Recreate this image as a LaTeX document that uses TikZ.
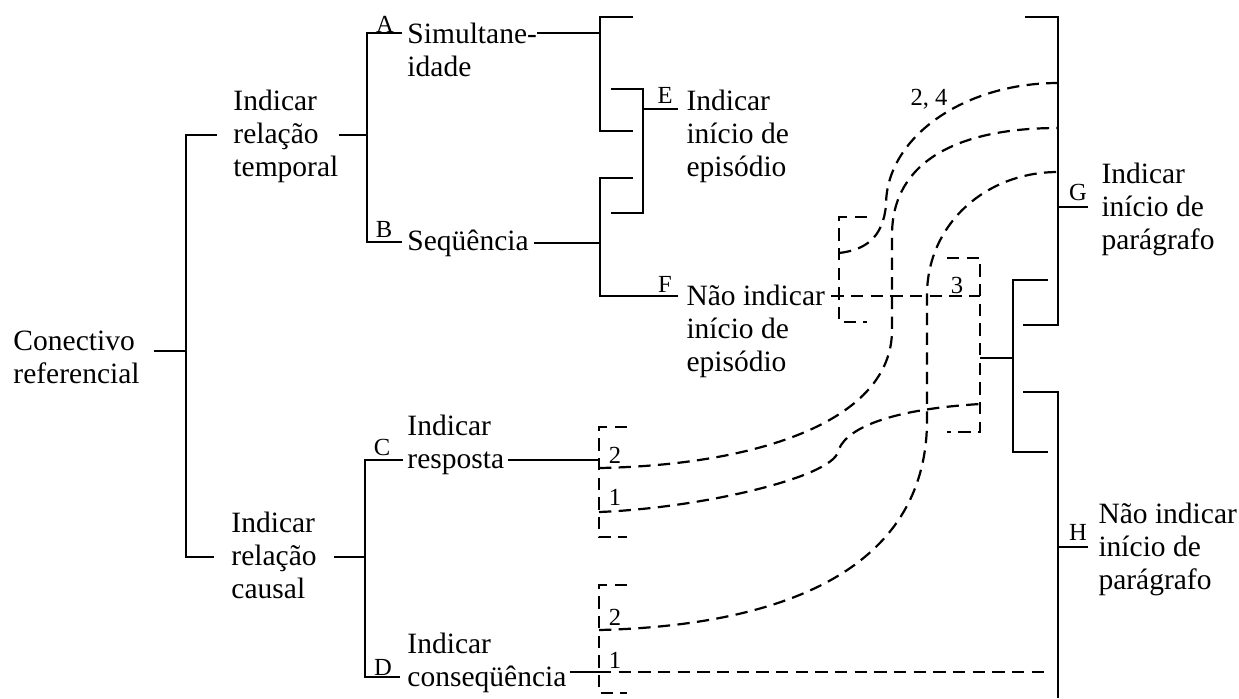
\documentclass[tikz,border=0pt]{standalone}
\usepackage{fontspec}
\setmainfont{Liberation Serif}
\usetikzlibrary{positioning,calc}

\begin{document}
\begin{tikzpicture}[
    x=0.4068pt, y=-0.4068pt,
    term/.style={anchor=base west, align=left, inner sep=0pt, font=\fontsize{12}{13.4}\selectfont},
    tag/.style={anchor=base, inner sep=0pt, font=\fontsize{10}{12}\selectfont},
    link/.style={line width=0.8pt},
    route/.style={line width=0.9pt, dash pattern=on 5pt off 3pt}
]
\useasboundingbox (0,0) rectangle (1239,698);

% texts of the tree (placed at the baseline of their last line)
\node[term] (root) at (13,383) {Conectivo\\referencial};
\node[term] (temporal) at (233,176) {Indicar\\relação\\temporal};
\node[term] (causal) at (231,598) {Indicar\\relação\\causal};
\node[term] (simult) at (407,76) {Simultane-\\idade};
\node[term] (seq) at (407,250) {Seqüência};
\node[term] (resp) at (407,468) {Indicar\\resposta};
\node[term] (conseq) at (407,686) {Indicar\\conseqüência};
\node[term] (epE) at (686,176) {Indicar\\início de\\episódio};
\node[term] (epF) at (686,371) {Não indicar\\início de\\episódio};
\node[term] (parG) at (1101,249) {Indicar\\início de\\parágrafo};
\node[term] (parH) at (1098,589) {Não indicar\\início de\\parágrafo};

% junctions
\coordinate (rootJ) at (186,351);
\coordinate (tTop) at (217,135);
\coordinate (tBot) at (214,557);
\coordinate (abJ) at (367,135);
\coordinate (aTip) at (402,33);
\coordinate (bTip) at (402,242);
\coordinate (cdJ) at (365,557);
\coordinate (cTip) at (403,460);
\coordinate (dTip) at (400,677);
\coordinate (sJ) at (600,33);
\coordinate (sTop) at (633,17);
\coordinate (sBot) at (633,131);
\coordinate (eTop) at (611,89);
\coordinate (eBot) at (611,213);
\coordinate (eJ) at (643,109);
\coordinate (eTip) at (678,109);
\coordinate (qJ) at (600,243);
\coordinate (qTop) at (633,178);
\coordinate (fTip) at (678,296);
\coordinate (gTop) at (1025,17);
\coordinate (gBot) at (1023,325);
\coordinate (gJ) at (1058,207);
\coordinate (gTip) at (1088,207);
\coordinate (mTop) at (1048,280);
\coordinate (mBot) at (1048,452);
\coordinate (mJ) at (1013,358);
\coordinate (hTop) at (1023,392);
\coordinate (hJ) at (1058,547);
\coordinate (hEnd) at (1058,698);
\coordinate (hTip) at (1088,547);
% dashed brackets
\coordinate (fbTop) at (867,217);
\coordinate (fbBot) at (867,322);
\coordinate (fbJ) at (839,296);
\coordinate (fbUp) at (839,253);
\coordinate (b3Top) at (947,258);
\coordinate (b3Bot) at (947,432);
\coordinate (b3J) at (980,358);
\coordinate (b3F) at (980,296);
\coordinate (b3C) at (980,404);
\coordinate (cbTop) at (627,427);
\coordinate (cbBot) at (627,537);
\coordinate (cbJ) at (599,460);
\coordinate (cb2) at (599,468);
\coordinate (cb1) at (599,512);
\coordinate (dbTop) at (627,585);
\coordinate (dbBot) at (627,693);
\coordinate (dbJ) at (599,672);
\coordinate (db2) at (599,630);
\coordinate (dEnd) at (1048,672);
\coordinate (g1) at (1058,83);
\coordinate (g2) at (1058,128);
\coordinate (g3) at (1058,172);

% solid brackets
\draw[link] (root.east |- rootJ) ++(14,0) -- (rootJ);
\draw[link] (tTop) -| (rootJ) |- (tBot);
\draw[link] (temporal.east |- abJ) -- (abJ);
\draw[link] (aTip) -| (abJ) |- (bTip);
\draw[link] (causal.east |- cdJ) ++(17,0) -- (cdJ);
\draw[link] (cTip) -| (cdJ) |- (dTip);
\draw[link] (simult.east |- sJ) -- (sJ);
\draw[link] (sTop) -| (sJ) |- (sBot);
\draw[link] (eTop) -| (eJ) |- (eBot);
\draw[link] (eJ) -- (eTip);
\draw[link] (seq.east |- qJ) ++(5,0) -- (qJ);
\draw[link] (qTop) -| (qJ) |- (fTip);
\draw[link] (resp.east |- cbJ) ++(3,0) -- (cbJ);
\draw[link] (conseq.east |- dbJ) ++(3,0) -- (dbJ);
\draw[link] (gTop) -| (gJ) |- (gBot);
\draw[link] (gJ) -- (gTip);
\draw[link] (b3J) -- (mJ);
\draw[link] (mTop) -| (mJ) |- (mBot);
\draw[link] (hTop) -| (hJ) -- (hEnd);
\draw[link] (hJ) -- (hTip);

% dashed brackets
\draw[route] (fbTop) -| (fbJ) |- (fbBot);
\draw[route] (b3Top) -| (b3J) |- (b3Bot);
\draw[route] (cbTop) -| (cbJ) |- (cbBot);
\draw[route] (dbTop) -| (dbJ) |- (dbBot);

% dashed routes
\draw[route] (epF.east |- fbJ) ++(6,0) -- (b3F);
\draw[route] (fbUp) .. controls (865,250) and (883,238) .. (886,205)
    .. controls (886,138) and (963,83) .. (g1);
\draw[route] (cb2) .. controls (760,465) and (892,420) .. (892,330)
    -- (892,235) .. controls (892,160) and (960,128) .. (g2);
\draw[route] (db2) .. controls (800,625) and (927,560) .. (927,420)
    -- (927,295) .. controls (927,225) and (985,172) .. (g3);
\draw[route] (cb1) .. controls (700,508) and (830,478) .. (838,452)
    .. controls (843,432) and (880,410) .. (b3C);
\draw[route] (dbJ) -- (dEnd);

% letters and numbers
\node[tag] (la) at (385,32) {A};
\node[tag] (lb) at (384,237) {B};
\node[tag] (lc) at (382,455) {C};
\node[tag] (ld) at (383,675) {D};
\node[tag] (le) at (665,103) {E};
\node[tag] (lf) at (665,292) {F};
\node[tag] (lg) at (1078,200) {G};
\node[tag] (lh) at (1078,540) {H};
\node[tag] (n24) at (929,105) {2, 4};
\node[tag] (n3) at (957,293) {3};
\node[tag] (nc2) at (615,463) {2};
\node[tag] (nc1) at (615,505) {1};
\node[tag] (nd2) at (615,625) {2};
\node[tag] (nd1) at (615,668) {1};
\end{tikzpicture}
\end{document}
